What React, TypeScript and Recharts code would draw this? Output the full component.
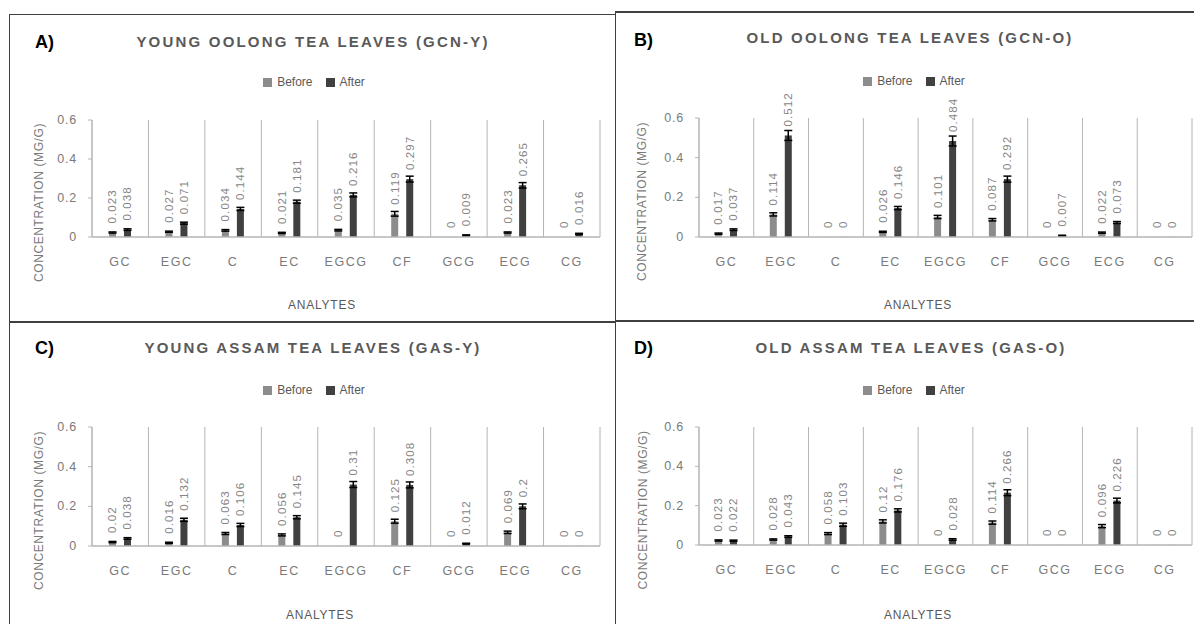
import React from "react";
import {
  BarChart,
  Bar,
  XAxis,
  YAxis,
  CartesianGrid,
  Legend,
  LabelList,
  ErrorBar,
} from "recharts";

const categories = ["GC", "EGC", "C", "EC", "EGCG", "CF", "GCG", "ECG", "CG"];
const yTicks = [0, 0.2, 0.4, 0.6];

// A) young oolong tea leaves
const gcnYBefore = [0.023, 0.027, 0.034, 0.021, 0.035, 0.119, 0, 0.023, 0];
const gcnYAfter = [0.038, 0.071, 0.144, 0.181, 0.216, 0.297, 0.009, 0.265, 0.016];
const gcnYBeforeErr = [0.003, 0.003, 0.004, 0.003, 0.004, 0.012, 0, 0.003, 0];
const gcnYAfterErr = [0.004, 0.005, 0.008, 0.008, 0.01, 0.015, 0.002, 0.014, 0.003];

// B) old oolong tea leaves
const gcnOBefore = [0.017, 0.114, 0, 0.026, 0.101, 0.087, 0, 0.022, 0];
const gcnOAfter = [0.037, 0.512, 0, 0.146, 0.484, 0.292, 0.007, 0.073, 0];
const gcnOBeforeErr = [0.003, 0.008, 0, 0.003, 0.008, 0.006, 0, 0.003, 0];
const gcnOAfterErr = [0.004, 0.025, 0, 0.008, 0.025, 0.015, 0.002, 0.005, 0];

// C) young assam tea leaves
const gasYBefore = [0.02, 0.016, 0.063, 0.056, 0, 0.125, 0, 0.069, 0];
const gasYAfter = [0.038, 0.132, 0.106, 0.145, 0.31, 0.308, 0.012, 0.2, 0];
const gasYBeforeErr = [0.003, 0.003, 0.005, 0.005, 0, 0.01, 0, 0.006, 0];
const gasYAfterErr = [0.004, 0.008, 0.008, 0.008, 0.015, 0.015, 0.002, 0.012, 0];

// D) old assam tea leaves
const gasOBefore = [0.023, 0.028, 0.058, 0.12, 0, 0.114, 0, 0.096, 0];
const gasOAfter = [0.022, 0.043, 0.103, 0.176, 0.028, 0.266, 0, 0.226, 0];
const gasOBeforeErr = [0.003, 0.003, 0.005, 0.008, 0, 0.008, 0, 0.008, 0];
const gasOAfterErr = [0.003, 0.004, 0.008, 0.008, 0.004, 0.015, 0, 0.012, 0];

const FONT = "'Liberation Sans', Arial, sans-serif";
const BEFORE_COLOR = "#8c8c8c";
const AFTER_COLOR = "#404040";
const TEXT = "#595959";
const TICK_TEXT = "#7a7a7a";
const LINE = "#b4b4b4";
const FRAME = "#404040";

const panels = [
  {
    letter: "A)", title: "YOUNG OOLONG TEA LEAVES (GCN-Y)",
    before: gcnYBefore, after: gcnYAfter, beforeErr: gcnYBeforeErr, afterErr: gcnYAfterErr,
    left: 10, top: 14, width: 605, height: 308, plotTop: 106, plotRight: 15, yWidth: 82, xHeight: 85,
    letterX: 35, letterY: 42, titleX: 313, titleY: 42, legendX: 314, legendY: 82,
    yTitleX: 39, xTitleX: 322, xTitleDy: 68,
  },
  {
    letter: "B)", title: "OLD OOLONG TEA LEAVES (GCN-O)",
    before: gcnOBefore, after: gcnOAfter, beforeErr: gcnOBeforeErr, afterErr: gcnOAfterErr,
    left: 615, top: 12, width: 590, height: 310, plotTop: 106, plotRight: 13, yWidth: 84, xHeight: 85,
    letterX: 634, letterY: 40, titleX: 910, titleY: 38, legendX: 914, legendY: 81,
    yTitleX: 642, xTitleX: 918, xTitleDy: 68,
  },
  {
    letter: "C)", title: "YOUNG ASSAM TEA LEAVES (GAS-Y)",
    before: gasYBefore, after: gasYAfter, beforeErr: gasYBeforeErr, afterErr: gasYAfterErr,
    left: 10, top: 322, width: 605, height: 302, plotTop: 105, plotRight: 15, yWidth: 82, xHeight: 78,
    letterX: 35, letterY: 348, titleX: 313, titleY: 348, legendX: 314, legendY: 390,
    yTitleX: 39, xTitleX: 320, xTitleDy: 69,
  },
  {
    letter: "D)", title: "OLD ASSAM TEA LEAVES (GAS-O)",
    before: gasOBefore, after: gasOAfter, beforeErr: gasOBeforeErr, afterErr: gasOAfterErr,
    left: 615, top: 320, width: 590, height: 304, plotTop: 107, plotRight: 13, yWidth: 84, xHeight: 79,
    letterX: 634, letterY: 348, titleX: 911, titleY: 348, legendX: 914, legendY: 390,
    yTitleX: 643, xTitleX: 918, xTitleDy: 70,
  },
];

const valueLabel = (props: any) => {
  const { x, y, width, value } = props;
  if (value == null) return null;
  const cx = Number(x) + Number(width) / 2;
  const ty = Number(y) - 9;
  return (
    <text
      x={cx}
      y={ty}
      transform={`rotate(-90 ${cx} ${ty})`}
      textAnchor="start"
      dominantBaseline="central"
      fill="#858585"
      fontSize={11.5}
      letterSpacing={1.1}
      fontFamily={FONT}
    >
      {value}
    </text>
  );
};

const xTick = (props: any) => (
  <text
    x={props.x}
    y={props.y + 25}
    textAnchor="middle"
    dominantBaseline="central"
    fill={TICK_TEXT}
    fontSize={12.5}
    letterSpacing={1.5}
    fontFamily={FONT}
  >
    {props.payload.value}
  </text>
);

const yTick = (props: any) => (
  <text
    x={props.x}
    y={props.y}
    textAnchor="end"
    dominantBaseline="central"
    fill={TICK_TEXT}
    fontSize={12.5}
    letterSpacing={0.8}
    fontFamily={FONT}
  >
    {props.payload.value}
  </text>
);

function Panel({ p }: { p: any }) {
  const data = categories.map((name, i) => ({
    name,
    before: p.before[i],
    after: p.after[i],
    beforeErr: p.beforeErr[i],
    afterErr: p.afterErr[i],
  }));

  const legend = () => (
    <div
      style={{
        display: "flex",
        justifyContent: "center",
        alignItems: "center",
        fontSize: 12,
        color: TEXT,
        fontFamily: FONT,
        lineHeight: "16px",
      }}
    >
      <span style={{ width: 9, height: 9, background: BEFORE_COLOR, display: "inline-block", marginRight: 5 }} />
      <span>Before</span>
      <span style={{ width: 9, height: 9, background: AFTER_COLOR, display: "inline-block", marginLeft: 13, marginRight: 5 }} />
      <span>After</span>
    </div>
  );

  return (
    <div style={{ position: "absolute", left: p.left, top: p.top, width: p.width, height: p.height }}>
      <BarChart
        width={p.width}
        height={p.height}
        data={data}
        margin={{ top: p.plotTop, right: p.plotRight, left: 0, bottom: 0 }}
        barSize={7}
        barGap={8}
      >
        <CartesianGrid
          horizontal={false}
          stroke={LINE}
          verticalCoordinatesGenerator={({ offset }: any) =>
            Array.from({ length: categories.length + 1 }, (_, i) => offset.left + (i * offset.width) / categories.length)
          }
        />
        <XAxis
          dataKey="name"
          height={p.xHeight}
          tickLine={false}
          tickSize={0}
          tickMargin={0}
          axisLine={{ stroke: LINE, strokeWidth: 1.5 }}
          tick={xTick}
          interval={0}
          label={{
            content: (lp: any) => (
              <text
                x={p.xTitleX - p.left}
                y={lp.viewBox.y + p.xTitleDy}
                textAnchor="middle"
                dominantBaseline="central"
                fill={TEXT}
                fontSize={12}
                letterSpacing={0.8}
                fontFamily={FONT}
              >
                ANALYTES
              </text>
            ),
          }}
        />
        <YAxis
          width={p.yWidth}
          domain={[0, 0.6]}
          ticks={yTicks}
          tickSize={4}
          tickMargin={11}
          tickLine={{ stroke: LINE }}
          axisLine={{ stroke: LINE }}
          tick={yTick}
          label={{
            content: (lp: any) => {
              const cx = p.yTitleX - p.left;
              const cy = lp.viewBox.y + lp.viewBox.height / 2 + 24;
              return (
                <text
                  x={cx}
                  y={cy}
                  transform={`rotate(-90 ${cx} ${cy})`}
                  textAnchor="middle"
                  dominantBaseline="central"
                  fill={TICK_TEXT}
                  fontSize={12}
                  letterSpacing={0.6}
                  fontFamily={FONT}
                >
                  CONCENTRATION (MG/G)
                </text>
              );
            },
          }}
        />
        <Legend
          layout="horizontal"
          verticalAlign="middle"
          align="center"
          content={legend}
          wrapperStyle={{
            top: p.legendY - p.top - 8,
            left: p.legendX - p.left - 150,
            width: 300,
            height: 16,
          }}
        />
        <Bar dataKey="before" name="Before" fill={BEFORE_COLOR} minPointSize={0.1} isAnimationActive={false}>
          <ErrorBar dataKey="beforeErr" width={4} stroke="#000" strokeWidth={1.5} direction="y" />
          <LabelList dataKey="before" content={valueLabel} />
        </Bar>
        <Bar dataKey="after" name="After" fill={AFTER_COLOR} minPointSize={0.1} isAnimationActive={false}>
          <ErrorBar dataKey="afterErr" width={4} stroke="#000" strokeWidth={1.5} direction="y" />
          <LabelList dataKey="after" content={valueLabel} />
        </Bar>
      </BarChart>
      <div
        style={{
          position: "absolute",
          left: p.letterX - p.left,
          top: p.letterY - p.top - 11,
          fontSize: 18,
          lineHeight: "22px",
          fontWeight: "bold",
          color: "#000",
          fontFamily: FONT,
        }}
      >
        {p.letter}
      </div>
      <div
        style={{
          position: "absolute",
          left: p.titleX - p.left - 250,
          width: 500,
          top: p.titleY - p.top - 9,
          textAlign: "center",
          fontSize: 15,
          lineHeight: "18px",
          fontWeight: "bold",
          letterSpacing: 2.2,
          color: TEXT,
          fontFamily: FONT,
          whiteSpace: "nowrap",
        }}
      >
        {p.title}
      </div>
    </div>
  );
}

export default function App() {
  const line = (left: number, top: number, width: number, height: number) => (
    <div style={{ position: "absolute", left, top, width, height, background: FRAME }} />
  );
  return (
    <div
      style={{
        position: "absolute",
        left: 0,
        top: 0,
        width: 1194,
        height: 624,
        overflow: "hidden",
        background: "#fff",
        fontFamily: FONT,
      }}
    >
      {panels.map((p) => (
        <Panel key={p.letter} p={p} />
      ))}
      {line(9, 13.5, 606, 1.5)}
      {line(615, 11, 579, 1.5)}
      {line(8.5, 13.5, 1.5, 611)}
      {line(614.5, 11, 1.5, 613)}
      {line(9, 321, 606, 2)}
      {line(615, 319.5, 579, 2)}
    </div>
  );
}
